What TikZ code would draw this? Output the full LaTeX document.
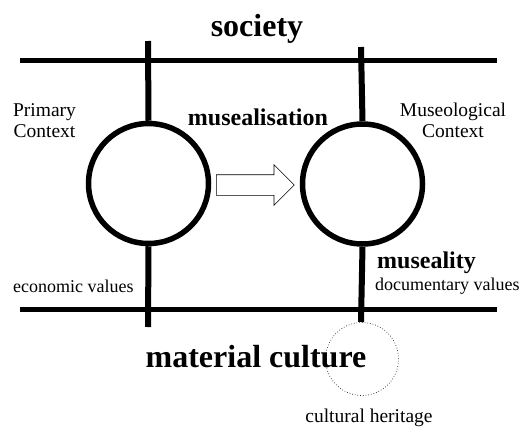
\documentclass[tikz,border=0pt]{standalone}
\usepackage{fontspec}
\setmainfont{Liberation Serif}
\usetikzlibrary{shapes.arrows}

\begin{document}
\begin{tikzpicture}[x=1pt, y=-1pt,
  ring/.style={draw, circle, line width=5.5pt, minimum size=120pt, inner sep=0pt},
  stem/.style={line width=6pt},
  field/.style={line width=5pt},
  lbl/.style={font=\fontsize{19.5}{21}\selectfont, align=center, inner sep=0pt},
  val/.style={font=\fontsize{18}{21}\selectfont, inner sep=0pt},
  key/.style={font=\fontsize{24}{28}\selectfont\bfseries, inner sep=0pt},
  title/.style={font=\fontsize{32}{36}\selectfont\bfseries, inner sep=0pt}
]
  \useasboundingbox (0,0) rectangle (532,428);

  % Society and material culture lines
  \coordinate (sl) at (20,60);
  \coordinate (sr) at (497,60);
  \coordinate (ml) at (20,309);
  \coordinate (mr) at (497,309);
  \draw[field] (sl) -- (sr);
  \draw[field] (ml) -- (mr);

  % Primary context
  \node[ring] (prim) at (148.5,183.5) {};
  \coordinate (pt) at (148,41);
  \coordinate (pb) at (148,327);
  \draw[stem] (pt) -- (prim.north);
  \draw[stem] (prim.south) -- (pb);

  % Museological context
  \node[ring] (muse) at (362.5,184) {};
  \coordinate (mt) at (361,47);
  \coordinate (mb) at (361,322);
  \draw[stem] (mt) -- (muse.north);
  \draw[stem] (muse.south) -- (mb);

  % Cultural heritage
  \node[draw=black!85, dotted, line width=0.7pt, circle, minimum size=73pt, inner sep=0pt] (herit) at (362,359) {};

  % Musealisation arrow
  \node[single arrow, draw, line width=0.6pt, fill=white, minimum height=78pt,
    inner xsep=0pt, inner ysep=10pt, text height=0pt, text depth=0pt,
    single arrow head extend=10pt, anchor=tail] (move) at (216,185) {};

  % Labels
  \node[title, anchor=base] (soc) at (257,37) {society};
  \node[title, anchor=base] (mat) at (256,367) {material culture};
  \node[key, anchor=base] (mus) at (258,125) {musealisation};
  \node[key, anchor=base west] (mty) at (377,268) {museality};
  \node[lbl, anchor=base] (pc) at (44.5,137) {Primary\\Context};
  \node[lbl, anchor=base] (mc) at (453,137) {Museological\\Context};
  \node[val, anchor=base west] (eco) at (13,292) {economic values};
  \node[val, anchor=base west] (doc) at (375,290) {documentary values};
  \node[lbl, anchor=base] (ch) at (369,422) {cultural heritage};

\end{tikzpicture}
\end{document}
